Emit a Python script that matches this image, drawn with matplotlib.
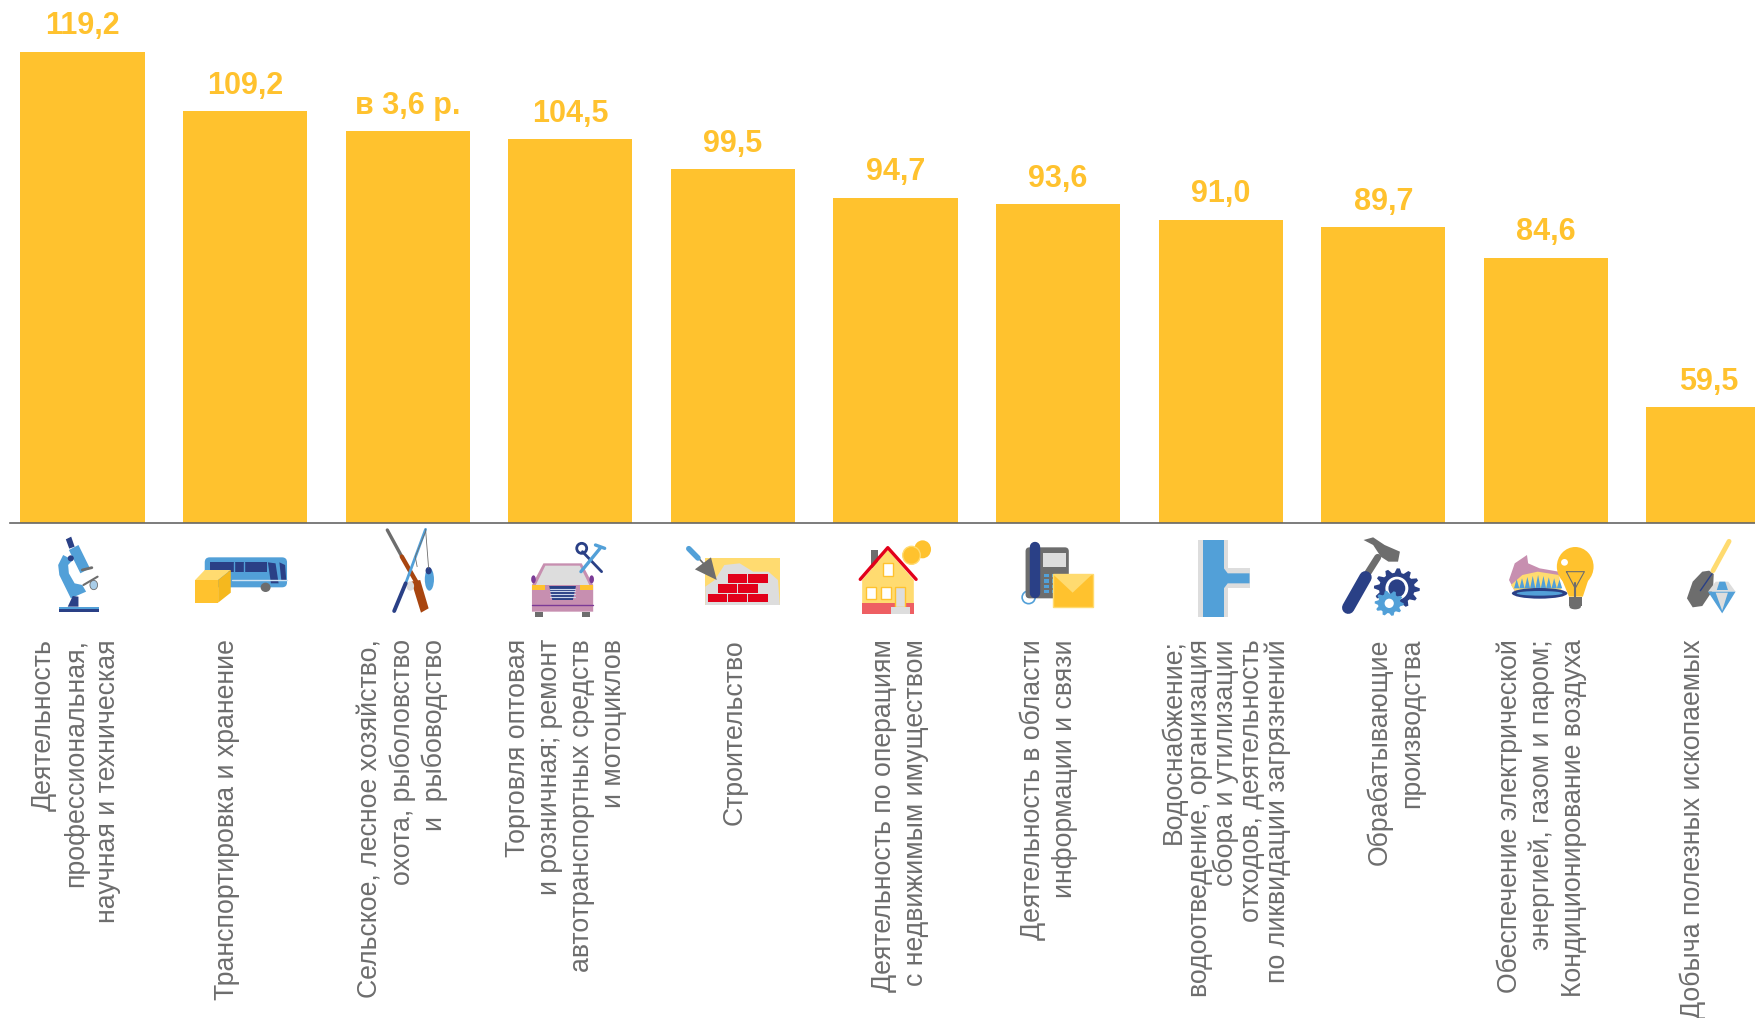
import numpy as np
import matplotlib
matplotlib.use("Agg")
import matplotlib.pyplot as plt
from matplotlib.patches import Polygon, Rectangle, Ellipse, FancyBboxPatch

plt.rcParams['font.family'] = ['Liberation Sans', 'DejaVu Sans']

categories = [
    ["Деятельность", "профессиональная,", "научная и техническая"],
    ["Транспортировка и хранение"],
    ["Сельское, лесное хозяйство,", "охота, рыболовство", "и  рыбоводство"],
    ["Торговля оптовая", "и розничная; ремонт", "автотранспортных средств", "и мотоциклов"],
    ["Строительство"],
    ["Деятельность по операциям", "с недвижимым имуществом"],
    ["Деятельность в области", "информации и связи"],
    ["Водоснабжение;", "водоотведение, организация", "сбора и утилизации",
     "отходов, деятельность", "по ликвидации загрязнений"],
    ["Обрабатывающие", "производства"],
    ["Обеспечение электрической", "энергией, газом и паром;", "Кондиционирование воздуха"],
    ["Добыча полезных ископаемых"],
]
values = [119.2, 109.2, 105.9, 104.5, 99.5, 94.7, 93.6, 91.0, 89.7, 84.6, 59.5]
value_labels = ["119,2", "109,2", "в 3,6 р.", "104,5", "99,5", "94,7", "93,6", "91,0", "89,7", "84,6", "59,5"]

label_x = [73, 224, 400, 563, 732, 897, 1046, 1223, 1393, 1539, 1690]
label_sp = [32, 32, 32, 32, 32, 32, 32, 26, 32, 32, 32]

YELLOW = '#FFC22E'
LIGHT = '#FFDB70'
BLUE = '#52A0D8'
DARK = '#2A4086'
GRAY = '#6D6D6D'
PALE = '#DDDDDD'
RED = '#E2001A'
PINK = '#C78FB0'
BROWN = '#A8450F'
SX, SY = 2.613, 3.0

fig = plt.figure(figsize=(17.55, 10.18), dpi=100)
ax = fig.add_axes([10 / 1755, 1 - 523 / 1018, 1745 / 1755, 523 / 1018])
x = np.arange(len(values))
ax.bar(x, values, width=0.763, color=YELLOW)
ax.set_xlim(-0.446, 10.286)
ax.set_ylim(40, 40 + 523 / 5.95)
for s in ['top', 'left', 'right']:
    ax.spines[s].set_visible(False)
ax.spines['bottom'].set_color('#666666')
ax.spines['bottom'].set_linewidth(1.2)
ax.set_xticks([])
ax.set_yticks([])
for i, v in enumerate(values):
    ax.annotate(value_labels[i], (i, v), xytext=(0, 12.5), textcoords='offset points',
                ha='center', va='baseline', fontsize=22, fontweight='bold', color=YELLOW,
                annotation_clip=False)

# overlay in pixels for the category labels and the little pictures
ov = fig.add_axes([0, 0, 1, 1], zorder=3)
ov.set_xlim(0, 1755)
ov.set_ylim(1018, 0)
ov.axis('off')
for i, lines in enumerate(categories):
    n = len(lines)
    for k, line in enumerate(lines):
        xb = label_x[i] + (k - (n - 1) / 2) * label_sp[i] + 10
        ov.text(xb, 639, line, rotation=90, rotation_mode='anchor', ha='right', va='baseline',
                fontsize=19.2, color=GRAY)

ox = 0


def P(pts, c):
    ov.add_patch(Polygon([(ox + a / SX, 500 + b / SY) for a, b in pts], fc=c, ec='none'))


def R(x0, y0, x1, y1, c, ec='none'):
    ov.add_patch(Rectangle((ox + x0 / SX, 500 + y0 / SY), (x1 - x0) / SX, (y1 - y0) / SY,
                           fc=c, ec=ec, lw=1))


def E(cx, cy, w, h, c, ec='none', lw=1):
    ov.add_patch(Ellipse((ox + cx / SX, 500 + cy / SY), w / SX, h / SY, fc=c, ec=ec, lw=lw))


def L(pts, c, lw):
    ov.plot([ox + a / SX for a, b in pts], [500 + b / SY for a, b in pts], color=c, lw=lw,
            solid_capstyle='round')


def gear(cx, cy, r, n, c):
    t = np.linspace(0, 2 * np.pi, n * 4, endpoint=False)
    rr = np.where(np.arange(n * 4) % 4 < 2, r, r * 0.78)
    P(list(zip(cx + rr * np.cos(t), cy + rr * np.sin(t))), c)


# microscope
P([(172, 118), (186, 110), (195, 140), (181, 146)], DARK)
P([(180, 150), (205, 135), (235, 205), (210, 220)], BLUE)
P([(165, 165), (152, 195), (155, 225), (185, 295), (225, 275), (215, 255), (195, 250),
   (180, 220), (178, 195), (190, 180)], BLUE)
E(185, 175, 16, 18, DARK)
P([(177, 320), (190, 288), (205, 290), (205, 320)], DARK)
R(154, 322, 259, 328, BLUE)
R(154, 328, 259, 335, DARK)
L([(215, 210), (240, 203)], GRAY, 2)
L([(218, 255), (255, 230)], GRAY, 1.5)
E(245, 255, 20, 28, '#A9CDE8', ec=GRAY, lw=0.6)

# bus and box
ov.add_patch(FancyBboxPatch((535 / SX, 500 + 172 / SY), 215 / SX, 90 / SY,
                            boxstyle='round,pad=0,rounding_size=5', fc=BLUE, ec='none'))
R(550, 187, 698, 217, DARK)
L([(612, 187), (612, 217)], BLUE, 1)
L([(638, 187), (638, 217)], BLUE, 1)
P([(700, 187), (720, 190), (728, 250), (708, 250)], DARK)
P([(730, 187), (745, 195), (748, 240), (735, 240)], DARK)
L([(605, 240), (750, 240)], '#CFE4F4', 1)
E(694, 262, 26, 28, GRAY)
P([(510, 240), (535, 210), (603, 210), (570, 240)], LIGHT)
R(510, 240, 570, 308, YELLOW)
P([(570, 240), (603, 210), (603, 278), (570, 308)], '#F5B81E')

# gun, rod, fish
L([(1012, 90), (1050, 170)], GRAY, 2.4)
L([(1050, 170), (1090, 250)], BROWN, 3.2)
P([(1075, 245), (1098, 240), (1120, 325), (1100, 338)], BROWN)
L([(1112, 88), (1060, 250)], BLUE, 2)
L([(1060, 250), (1030, 333)], DARK, 2.8)
L([(1112, 88), (1120, 205)], GRAY, 0.6)
L([(1112, 95), (1085, 170), (1090, 200)], GRAY, 0.6)
E(1122, 238, 24, 68, BLUE)
E(1120, 212, 16, 22, DARK)
E(1072, 258, 20, 28, PALE)

# car and tools
P([(1420, 190), (1520, 190), (1550, 255), (1550, 335), (1390, 335), (1390, 255)], PINK)
P([(1425, 197), (1515, 197), (1540, 255), (1400, 255)], PALE)
P([(1435, 258), (1505, 258), (1497, 300), (1443, 300)], DARK)
for yy in [266, 274, 282, 290]:
    L([(1438, yy), (1502, yy)], '#C9D5EA', 0.8)
R(1390, 256, 1424, 270, YELLOW)
R(1516, 256, 1550, 270, YELLOW)
L([(1390, 314), (1550, 314)], '#7B3A96', 1)
R(1398, 335, 1420, 350, GRAY)
R(1520, 335, 1542, 350, GRAY)
E(1394, 238, 12, 24, '#7B3A96')
E(1546, 238, 12, 24, '#7B3A96')
L([(1522, 155), (1572, 215)], DARK, 2)
E(1520, 145, 26, 30, 'none', ec=DARK, lw=2)
L([(1518, 215), (1568, 145)], BLUE, 2.4)
L([(1556, 135), (1580, 145)], BLUE, 2.4)

# trowel and bricks
ox = 600
R(275, 175, 470, 315, LIGHT)
P([(275, 315), (275, 260), (300, 240), (325, 195), (365, 190), (400, 215), (440, 215),
   (465, 240), (470, 315)], PALE)
P([(248, 208), (290, 172), (305, 240)], GRAY)
L([(258, 175), (270, 190)], GRAY, 1.2)
L([(232, 146), (256, 174)], BLUE, 4)
for a, b, c, d in [(335, 223, 385, 248), (388, 223, 440, 248), (308, 252, 358, 278), (361, 252, 412, 278),
                   (281, 282, 332, 307), (335, 282, 385, 307), (388, 282, 440, 307)]:
    R(a, b, c, d, RED)

# house and coins
R(708, 150, 727, 205, GRAY)
P([(685, 240), (752, 150), (820, 240), (820, 310), (685, 310)], LIGHT)
R(685, 310, 820, 342, '#EE5F63')
L([(680, 238), (752, 143), (826, 238)], RED, 2.4)
for a, b, c, d in [(740, 190, 765, 228), (696, 260, 722, 298), (734, 260, 760, 298)]:
    R(a, b, c, d, 'white', ec=YELLOW)
R(772, 260, 798, 320, PALE, ec=YELLOW)
R(760, 322, 810, 342, PALE)
E(843, 148, 44, 54, YELLOW)
E(814, 166, 46, 54, YELLOW, ec=LIGHT)

# phone and envelope
E(1120, 292, 34, 38, 'none', ec=BLUE, lw=1.2)
ov.add_patch(FancyBboxPatch((ox + 1112 / SX, 500 + 142 / SY), 113 / SX, 153 / SY,
                            boxstyle='round,pad=0,rounding_size=4', fc=GRAY, ec='none'))
R(1158, 158, 1218, 202, PALE)
L([(1137, 140), (1137, 280)], DARK, 7.5)
for yy in [222, 238, 254, 270]:
    R(1160, yy, 1174, yy + 10, BLUE)
    R(1180, yy, 1194, yy + 10, BLUE)
R(1183, 222, 1287, 320, YELLOW, ec=LIGHT)
P([(1183, 222), (1287, 222), (1235, 278)], LIGHT)

# pipe
ox = 1155
R(113, 120, 190, 350, PALE)
R(185, 205, 247, 265, PALE)
R(125, 120, 180, 350, BLUE)
P([(180, 205), (190, 220), (247, 220), (247, 250), (190, 250), (180, 265)], BLUE)

# hammer and gears
P([(545, 120), (570, 112), (600, 135), (640, 155), (635, 185), (610, 185), (590, 170), (570, 135)], GRAY)
L([(582, 172), (550, 230)], GRAY, 5)
L([(550, 232), (505, 323)], DARK, 9)
gear(632, 265, 60, 12, DARK)
E(632, 265, 60, 70, 'white')
E(632, 265, 44, 54, DARK)
gear(612, 310, 38, 10, BLUE)
E(612, 310, 24, 28, 'white')

# burner and bulb
P([(925, 240), (940, 190), (972, 165), (975, 190), (1005, 205), (1055, 215), (1060, 290), (945, 285)], PINK)
P([(930, 255), (960, 225), (1000, 215), (1055, 225), (1065, 290), (945, 280)], LIGHT)
for xx in range(945, 1070, 14):
    P([(xx - 7, 265), (xx, 225 + abs(xx - 1000) // 4), (xx + 7, 265)], BLUE)
E(1005, 280, 145, 32, DARK)
E(1005, 280, 120, 14, BLUE)
P([(1060, 230), (1135, 230), (1118, 290), (1082, 290)], YELLOW)
E(1098, 200, 96, 118, YELLOW)
R(1081, 290, 1116, 318, GRAY)
E(1098, 320, 30, 16, GRAY)
L([(1075, 215), (1122, 215), (1098, 265), (1075, 215)], GRAY, 0.8)
L([(1098, 250), (1098, 290)], GRAY, 1.5)
E(1070, 187, 18, 20, 'white')

# shovel and gem
L([(1500, 124), (1458, 212)], LIGHT, 3.5)
P([(1448, 212), (1460, 222), (1458, 270), (1430, 318), (1405, 322), (1390, 295), (1405, 245), (1430, 215)], GRAY)
L([(1455, 222), (1425, 272)], DARK, 1)
P([(1445, 275), (1465, 245), (1498, 245), (1517, 275)], PALE)
P([(1468, 270), (1475, 245), (1490, 245), (1497, 270)], BLUE)
P([(1445, 275), (1517, 275), (1482, 340)], BLUE)
P([(1465, 278), (1497, 278), (1482, 332)], PALE)

fig.savefig('out.png', dpi=100, facecolor='white')
